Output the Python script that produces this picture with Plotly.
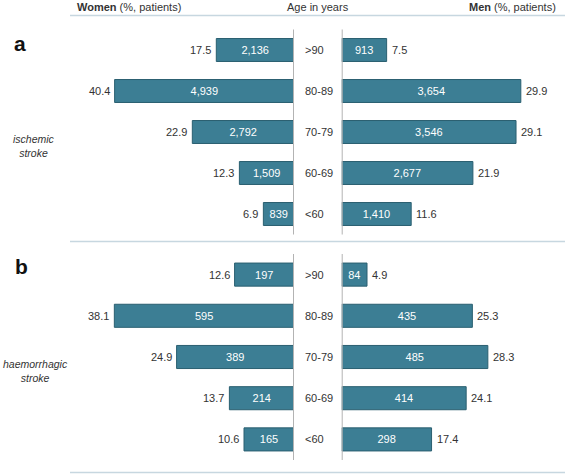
import plotly.graph_objects as go

ages = [">90", "80-89", "70-79", "60-69", "<60"]

# Panel a: ischemic stroke
isch_women_pct = [17.5, 40.4, 22.9, 12.3, 6.9]
isch_women_n = [2136, 4939, 2792, 1509, 839]
isch_men_pct = [7.5, 29.9, 29.1, 21.9, 11.6]
isch_men_n = [913, 3654, 3546, 2677, 1410]

# Panel b: haemorrhagic stroke
haem_women_pct = [12.6, 38.1, 24.9, 13.7, 10.6]
haem_women_n = [197, 595, 389, 214, 165]
haem_men_pct = [4.9, 25.3, 28.3, 24.1, 17.4]
haem_men_n = [84, 435, 485, 414, 298]

W, H = 567, 474
FONT = "Liberation Sans, Arial, sans-serif"
BAR_FILL = "#3c7e94"
BAR_LINE = "#2a5f70"
TXT = "#333333"
SEP = "#c7d7e0"
AX = "#b3b3b3"

def px_x(p):
    return p / W

def px_y(p):
    return 1 - p / H

xl = [px_x(70), px_x(294)]
xr = [px_x(341.7), px_x(560)]
ya = [px_y(234.5), px_y(29.5)]
yb = [px_y(460), px_y(254)]

fig = go.Figure()

panels = [
    ("x", "y", isch_women_pct, isch_women_n, "left"),
    ("x2", "y2", isch_men_pct, isch_men_n, "right"),
    ("x3", "y3", haem_women_pct, haem_women_n, "left"),
    ("x4", "y4", haem_men_pct, haem_men_n, "right"),
]

annotations = []
for xa, yaa, pct, n, side in panels:
    fig.add_trace(go.Bar(
        x=pct, y=ages, orientation="h", xaxis=xa, yaxis=yaa,
        marker=dict(color=BAR_FILL, line=dict(color=BAR_LINE, width=1)),
        width=0.56,
        text=[f"{v:,}" for v in n], textposition="inside",
        insidetextanchor="middle", textangle=0,
        textfont=dict(color="white", size=11, family=FONT),
        hoverinfo="skip", showlegend=False,
    ))
    for v, a in zip(pct, ages):
        annotations.append(dict(
            x=v, y=a, xref=xa, yref=yaa, text=f"{v}", showarrow=False,
            xanchor="right" if side == "left" else "left",
            xshift=-3 if side == "left" else 3,
            font=dict(size=11, color=TXT, family=FONT),
        ))

# age labels
for yaa in ["y", "y3"]:
    for a in ages:
        annotations.append(dict(
            x=px_x(302.5), y=a, xref="paper", yref=yaa, text=a, showarrow=False,
            xanchor="left", font=dict(size=11, color=TXT, family=FONT),
        ))

# headers
annotations += [
    dict(x=px_x(75), y=px_y(7), xref="paper", yref="paper",
         text="<b>Women</b> (%, patients)", showarrow=False, xanchor="left", yanchor="middle",
         font=dict(size=11, color=TXT, family=FONT)),
    dict(x=px_x(317.5), y=px_y(7), xref="paper", yref="paper",
         text="Age in years", showarrow=False, xanchor="center", yanchor="middle",
         font=dict(size=11, color=TXT, family=FONT)),
    dict(x=px_x(558), y=px_y(7), xref="paper", yref="paper",
         text="<b>Men</b> (%, patients)", showarrow=False, xanchor="right", yanchor="middle",
         font=dict(size=11, color=TXT, family=FONT)),
    dict(x=px_x(20), y=px_y(44), xref="paper", yref="paper",
         text="<b>a</b>", showarrow=False, xanchor="center", yanchor="middle",
         font=dict(size=21, color="#111111", family=FONT)),
    dict(x=px_x(21), y=px_y(266), xref="paper", yref="paper",
         text="<b>b</b>", showarrow=False, xanchor="center", yanchor="middle",
         font=dict(size=21, color="#111111", family=FONT)),
    dict(x=px_x(34), y=px_y(146), xref="paper", yref="paper",
         text="<i>ischemic<br>stroke</i>", showarrow=False, xanchor="center", yanchor="middle",
         font=dict(size=10.5, color=TXT, family=FONT)),
    dict(x=px_x(35), y=px_y(371), xref="paper", yref="paper",
         text="<i>haemorrhagic<br>stroke</i>", showarrow=False, xanchor="center", yanchor="middle",
         font=dict(size=10.5, color=TXT, family=FONT)),
]

shapes = []
for yy in [15.5, 241.5, 472.5]:
    shapes.append(dict(type="line", xref="paper", yref="paper",
                       x0=px_x(70), x1=px_x(565), y0=px_y(yy), y1=px_y(yy),
                       line=dict(color=SEP, width=1.5)))
for xa, yaa in [("x", "y"), ("x2", "y2"), ("x3", "y3"), ("x4", "y4")]:
    shapes.append(dict(type="line", xref=xa, yref=f"{yaa} domain",
                       x0=0, x1=0, y0=0, y1=1, line=dict(color=AX, width=2)))

def xaxis(dom, rng, anchor):
    return dict(domain=dom, range=rng, visible=False, fixedrange=True, anchor=anchor)

def yaxis(dom, anchor):
    return dict(domain=dom, range=[4.5, -0.5], type="category", categoryorder="array",
                categoryarray=ages, visible=False, fixedrange=True, anchor=anchor)

fig.update_layout(
    width=W, height=H,
    margin=dict(l=0, r=0, t=0, b=0),
    paper_bgcolor="white", plot_bgcolor="white",
    xaxis=xaxis(xl, [50.45, 0], "y"),
    xaxis2=xaxis(xr, [0, 36.44], "y2"),
    xaxis3=xaxis(xl, [47.5, 0], "y3"),
    xaxis4=xaxis(xr, [0, 42.27], "y4"),
    yaxis=yaxis(ya, "x"),
    yaxis2=yaxis(ya, "x2"),
    yaxis3=yaxis(yb, "x3"),
    yaxis4=yaxis(yb, "x4"),
    annotations=annotations,
    shapes=shapes,
    font=dict(family=FONT, color=TXT),
)

fig.write_html(
    "out.html",
    config={"displayModeBar": False, "staticPlot": True},
    post_script="document.body.style.margin='0';document.body.style.overflow='hidden';",
)
